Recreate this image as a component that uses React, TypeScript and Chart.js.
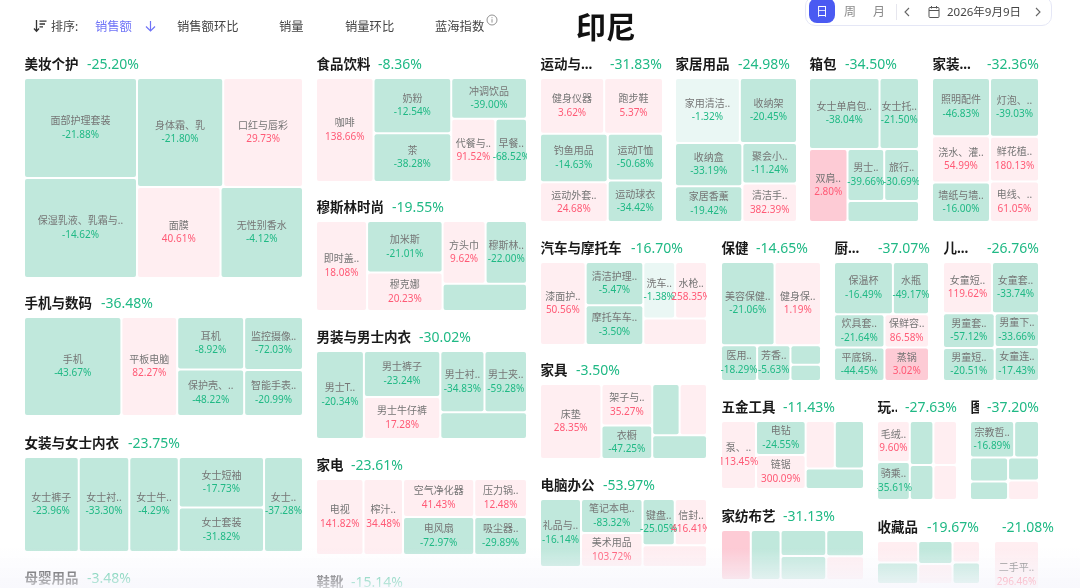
import React, { useEffect, useRef } from "react";
import { Chart, registerables, BarController } from "chart.js";

Chart.register(...registerables);

const groupNames = ["美妆个护","手机与数码","女装与女士内衣","母婴用品","食品饮料","穆斯林时尚","男装与男士内衣","家电","鞋靴","运动与...","家居用品","箱包","家装...","汽车与摩托车","保健","厨...","儿...","家具","五金工具","玩..","图","电脑办公","家纺布艺","收藏品",""];
const groupChanges = [-25.20,-36.48,-23.75,-3.48,-8.36,-19.55,-30.02,-23.61,-15.14,-31.83,-24.98,-34.50,-32.36,-16.70,-14.65,-37.07,-26.76,-3.50,-11.43,-27.63,-37.20,-53.97,-31.13,-19.67,-21.08];

const cellLabels: string[][] = [
  ["面部护理套装","保湿乳液、乳霜与..","身体霜、乳","口红与唇彩","面膜","无性别香水"],
  ["手机","平板电脑","耳机","保护壳、..","监控摄像..","智能手表.."],
  ["女士裤子","女士衬..","女士牛..","女士短袖","女士套装","女士.."],
  [],
  ["咖啡","奶粉","茶","冲调饮品","代餐与..","早餐.."],
  ["即时盖..","加米斯","穆克娜","方头巾","穆斯林..",""],
  ["男士T..","男士裤子","男士牛仔裤","男士衬..","男士夹..",""],
  ["电视","榨汁..","空气净化器","电风扇","压力锅..","吸尘器.."],
  [],
  ["健身仪器","跑步鞋","钓鱼用品","运动外套..","运动T恤","运动球衣"],
  ["家用清洁..","收纳架","收纳盒","家居香薰","聚会小..","清洁手.."],
  ["女士单肩包..","女士托..","双肩..","男士..","旅行..",""],
  ["照明配件","浇水、灌..","墙纸与墙..","灯泡、..","鲜花植..","电线、.."],
  ["漆面护..","清洁护理..","摩托车车..","洗车..","水枪..",""],
  ["美容保健..","健身保..","医用..","芳香..","",""],
  ["保温杯","水瓶","炊具套..","保鲜容..","平底锅..","蒸锅"],
  ["女童短..","女童套..","男童套..","男童短..","男童下..","女童连.."],
  ["床垫","架子与..","衣橱","","",""],
  ["泵、..","电钻","链锯","","",""],
  ["毛绒..","骑乘..","","","",""],
  ["宗教哲..","","","","",""],
  ["礼品与..","笔记本电..","美术用品","键盘..","信封..",""],
  ["","","","","",""],
  ["","","","","",""],
  ["二手平.."],
];

const cellChanges: (number | null)[][] = [
  [-21.88,-14.62,-21.80,29.73,40.61,-4.12],
  [-43.67,82.27,-8.92,-48.22,-72.03,-20.99],
  [-23.96,-33.30,-4.29,-17.73,-31.82,-37.28],
  [],
  [138.66,-12.54,-38.28,-39.00,91.52,-68.52],
  [18.08,-21.01,20.23,9.62,-22.00,null],
  [-20.34,-23.24,17.28,-34.83,-59.28,null],
  [141.82,34.48,41.43,-72.97,12.48,-29.89],
  [],
  [3.62,5.37,-14.63,24.68,-50.68,-34.42],
  [-1.32,-20.45,-33.19,-19.42,-11.24,382.39],
  [-38.04,-21.50,2.80,-39.66,-30.69,null],
  [-46.83,54.99,-16.00,-39.03,180.13,61.05],
  [50.56,-5.47,-3.50,-1.38,258.35,null],
  [-21.06,1.19,-18.29,-5.63,null,null],
  [-16.49,-49.17,-21.64,86.58,-44.45,3.02],
  [119.62,-33.74,-57.12,-20.51,-33.66,-17.43],
  [28.35,35.27,-47.25,null,null,null],
  [113.45,-24.55,300.09,null,null,null],
  [9.60,-35.61,null,null,null,null],
  [-16.89,null,null,null,null,null],
  [-16.14,-83.32,103.72,-25.05,416.41,null],
  [null,null,null,null,null,null],
  [null,null,null,null,null,null],
  [296.46],
];

// Estimated block size of every cell; nesting alternates the split direction.
const cellSizes: any[] = [
  [[113,113],[[94,87],[76,75]]],
  [96,55,[35,31],[31,27]],
  [52,48,47,[43,38],37],
  [],
  [60,[43,38],[31,[28,20]]],
  [46,[39,29],[[27,26],23]],
  [42,[35,32],[[27,26],23]],
  [36,30,[27,27],[20,20]],
  [],
  [[[36,33],[[33,27],[26,23]]]],
  [[[42,37],[[29,24],[22,21]]]],
  [[[50,28],[28,[[19,18],15]]]],
  [[34,27,23],[29,22,20]],
  [38,[25,23],[[18,18],17]],
  [[[45,39],[13,12,[6,5]]]],
  [[[31,19],[17,15],[17,15]]],
  [[[25,24],[[18,17],[15,15]]]],
  [46,[21,17],[[14,14],13]],
  [24,[17,17],[[14,14],12]],
  [[13,12],[10,8],[10,8]],
  [[[16,9],[[9,7],[7,6]]]],
  [28,[21,21],[[15,15],14]],
  [15,15,[12,11],[10,9]],
  [[9,9],[8,7],[6,6]],
  [1],
];

// Colour class of each cell: g green, l pale green, p pink, P deep pink
const cellTones = ["gggppg","gpgggg","gggggg","","pgggpg","pgppgg","ggpggg","pppgpg","","ppgpgg","lggggp","ggPggg","gpggpp","pgglpp","gpgggg","gggpgP","pggggg","ppggpg","pgppgg","pgggpp","gggggp","ggpgpp","Pggggp","pggppg","p"];

// Layout of the blocks on the page axes: x0, y0, x1, y1, x of the group's change text
const groupFrames = [
  [24,78,303,278,87],[24,317,303,416,101],[24,457,303,552,128],[24,592,303,640,87],
  [316,78,527,182,378],[316,221,527,311,392],[316,351,527,439,419],[316,479,527,555,351],[316,596,527,640,351],
  [540,78,663,222,610],[675,78,797,222,738],[809,78,919,222,845],[932,78,1039,222,987],
  [540,262,707,345,631],[721,262,821,381,756],[834,262,929,381,878],[943,262,1039,381,987],
  [540,384,707,459,576],[721,421,864,489,783],[877,421,957,500,905],[970,421,1039,500,987],
  [540,499,707,567,603],[721,530,864,580,783],[877,541,980,584,927],[994,541,1039,609,1002],
];

const toneColors: Record<string,string> = { g:"#c0e8dc", l:"#eaf7f4", p:"#ffeef1", P:"#fdcbd5" };
const GREEN = "#20b985";
const RED = "#ff5a76";
const FONT = '"Noto Sans","Noto Sans CJK SC",sans-serif';

const total = (n: any): number => (typeof n === "number" ? n : n.reduce((a: number, c: any) => a + total(c), 0));

function slice(node: any, x0: number, y0: number, x1: number, y1: number, horizontal: boolean, out: any[]) {
  if (typeof node === "number") { out.push({ x0, y0, x1, y1, x: (x0 + x1) / 2, y: y0 }); return; }
  const sum = total(node);
  let cursor = horizontal ? x0 : y0;
  for (const child of node) {
    const span = (total(child) / sum) * (horizontal ? x1 - x0 : y1 - y0);
    if (horizontal) slice(child, cursor, y0, cursor + span, y1, false, out);
    else slice(child, x0, cursor, x1, cursor + span, true, out);
    cursor += span;
  }
}

const cells: any[] = [];
groupNames.forEach((_, g) => {
  const [x0, y0, x1, y1] = groupFrames[g];
  const boxes: any[] = [];
  slice(cellSizes[g], x0, y0, x1, y1, true, boxes);
  boxes.forEach((b, i) => cells.push({ ...b, g, i }));
});

class CellController extends (BarController as any) {
  static id = "cell";
  static defaults = { ...(BarController as any).defaults };
  static overrides = (BarController as any).overrides;
  updateElements(rects: any[], start: number, count: number, mode: string) {
    const { xScale, yScale } = this._cachedMeta;
    for (let i = start; i < start + count; i++) {
      const d = this.getDataset().data[i];
      const left = xScale.getPixelForValue(d.x0);
      const right = xScale.getPixelForValue(d.x1);
      this.updateElement(rects[i], i, {
        horizontal: false,
        x: (left + right) / 2,
        width: right - left,
        y: yScale.getPixelForValue(d.y0),
        base: yScale.getPixelForValue(d.y1),
        enableBorderRadius: true,
        inflateAmount: 0,
        borderSkipped: { top: false, left: false, bottom: false, right: false },
        options: this.resolveDataElementOptions(i, mode),
      }, mode);
    }
  }
}
Chart.register(CellController as any);

const textPlugin = {
  id: "treemapText",
  afterDatasetsDraw(chart: any) {
    const { ctx, scales } = chart;
    const px = (v: number) => scales.x.getPixelForValue(v);
    const py = (v: number) => scales.y.getPixelForValue(v);
    ctx.save();
    ctx.textBaseline = "middle";
    groupNames.forEach((name, g) => {
      const [x0, y0, x1, y1, cx] = groupFrames[g];
      const yT = py(y0 - 13);
      ctx.save();
      ctx.beginPath();
      ctx.rect(px(x0), yT - 14, px(cx - 8) - px(x0), 28);
      ctx.clip();
      ctx.textAlign = "left";
      ctx.fillStyle = "#1a1a1a";
      ctx.font = `bold 13.5px ${FONT}`;
      ctx.fillText(name, px(x0) + 0.5, yT);
      ctx.restore();
      ctx.textAlign = "left";
      ctx.fillStyle = GREEN;
      ctx.font = `14px ${FONT}`;
      ctx.fillText(`${groupChanges[g].toFixed(2)}%`, px(cx), yT);

      ctx.save();
      ctx.beginPath();
      ctx.rect(px(x0), py(y0), px(x1) - px(x0), py(y1) - py(y0));
      ctx.clip();
      ctx.textAlign = "center";
      cells.filter((c) => c.g === g).forEach((c) => {
        const label = cellLabels[g][c.i];
        const val = cellChanges[g][c.i];
        if (val === null || val === undefined) return;
        const mx = px(c.x);
        const my = (py(c.y0) + py(c.y1)) / 2;
        ctx.font = `10px ${FONT}`;
        ctx.fillStyle = "#757575";
        ctx.fillText(label, mx, my - 6.5);
        ctx.fillStyle = val < 0 ? GREEN : RED;
        ctx.fillText(`${val.toFixed(2)}%`, mx, my + 7);
      });
      ctx.restore();
    });
    ctx.restore();
  },
};

const label = (text: string, left: number, top: number, size: number, color: string, extra: any = {}) => (
  <div style={{ position: "absolute", left, top, fontSize: size, lineHeight: `${size + 4}px`, color, whiteSpace: "nowrap", fontFamily: FONT, ...extra }}>{text}</div>
);

export default function App() {
  const ref = useRef<HTMLCanvasElement>(null);
  useEffect(() => {
    const chart = new Chart(ref.current as any, {
      type: "cell" as any,
      data: {
        datasets: [{
          data: cells,
          backgroundColor: cells.map((c) => toneColors[cellTones[c.g][c.i]] || toneColors.g),
          borderColor: "#ffffff",
          borderWidth: 1,
          borderRadius: 3,
          parsing: false,
        } as any],
      },
      options: {
        animation: false,
        responsive: false,
        layout: { padding: 0 },
        scales: {
          x: { type: "linear", min: 0, max: 1080, display: false, offset: false },
          y: { type: "linear", min: 0, max: 588, reverse: true, display: false, offset: false },
        },
        plugins: { legend: { display: false }, tooltip: { enabled: false } },
      } as any,
      plugins: [textPlugin],
    });
    return () => chart.destroy();
  }, []);

  return (
    <div style={{ position: "fixed", left: 0, top: 0, width: 1080, height: 588, overflow: "hidden", background: "#fff" }}>
      <canvas ref={ref} width={1080} height={588} style={{ position: "absolute", left: 0, top: 0, width: 1080, height: 588 }} />
      <div style={{ position: "absolute", left: 0, top: 548, width: 1080, height: 40, background: "linear-gradient(to bottom, rgba(247,247,253,0), rgba(246,246,252,0.8))" }} />

      <svg style={{ position: "absolute", left: 33, top: 19 }} width="14" height="14" viewBox="0 0 14 14" fill="none" stroke="#333" strokeWidth="1.3">
        <path d="M3.5 1v11M1 9.5l2.5 2.8L6 9.5" /><path d="M6.5 2.2h7M6.5 5h5.5M6.5 7.8h3.5" />
      </svg>
      {label("排序:", 51, 19, 12, "#444")}
      {label("销售额", 95, 19, 12.3, "#6f73f7")}
      <svg style={{ position: "absolute", left: 145, top: 20 }} width="11" height="12" viewBox="0 0 11 12" fill="none" stroke="#6f73f7" strokeWidth="1.2">
        <path d="M5.5 1v10M1 6.5l4.5 4.5L10 6.5" />
      </svg>
      {label("销售额环比", 177, 19, 12.3, "#444")}
      {label("销量", 279, 19, 12.3, "#444")}
      {label("销量环比", 345, 19, 12.3, "#444")}
      {label("蓝海指数", 435, 19, 12.3, "#444")}
      <svg style={{ position: "absolute", left: 486, top: 14 }} width="12" height="12" viewBox="0 0 12 12" fill="none" stroke="#777" strokeWidth="0.8">
        <circle cx="6" cy="6" r="5" /><path d="M6 5.2v3.4M6 3.2v1" />
      </svg>

      {label("印尼", 576, 10, 30, "#111", { fontWeight: 700 })}

      <div style={{ position: "absolute", left: 805, top: -4, width: 247, height: 30, boxSizing: "border-box", background: "#fff", border: "1px solid #e5e7f6", borderRadius: 10 }} />
      <div style={{ position: "absolute", left: 809, top: -2, width: 26, height: 25, borderRadius: 8, background: "#4a5af2" }} />
      {label("日", 816, 4, 12, "#fff")}
      {label("周", 844, 4, 12, "#8a8a8a")}
      {label("月", 873, 4, 12, "#8a8a8a")}
      <div style={{ position: "absolute", left: 896, top: 4, width: 1, height: 16, background: "#e6e6ee" }} />
      <svg style={{ position: "absolute", left: 903, top: 6 }} width="8" height="12" viewBox="0 0 8 12" fill="none" stroke="#666" strokeWidth="1.1"><path d="M6 2L2 6l4 4" /></svg>
      <svg style={{ position: "absolute", left: 928, top: 5 }} width="12" height="14" viewBox="0 0 12 14" fill="none" stroke="#555" strokeWidth="1"><rect x="1" y="2.5" width="10" height="10" rx="1" /><path d="M1 5.5h10M3.5 1v2.5M8.5 1v2.5" /></svg>
      {label("2026年9月9日", 947, 4, 11.5, "#444")}
      <svg style={{ position: "absolute", left: 1034, top: 6 }} width="8" height="12" viewBox="0 0 8 12" fill="none" stroke="#666" strokeWidth="1.1"><path d="M2 2l4 4-4 4" /></svg>
    </div>
  );
}
